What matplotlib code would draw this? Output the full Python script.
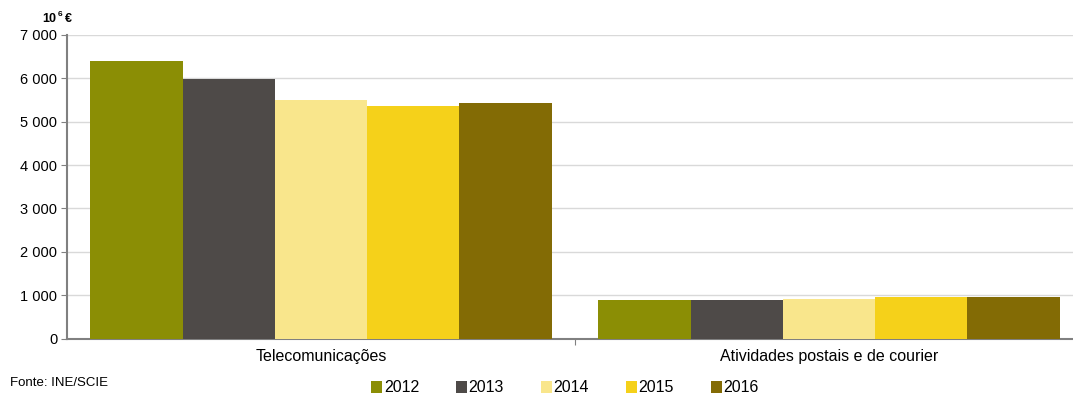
import matplotlib.pyplot as plt
import numpy as np

plt.rcParams['font.family'] = ['Liberation Sans', 'DejaVu Sans']

categories = ['Telecomunicações', 'Atividades postais e de courier']
years = ['2012', '2013', '2014', '2015', '2016']
values = {
    '2012': [6390, 885],
    '2013': [5995, 885],
    '2014': [5510, 922],
    '2015': [5360, 960],
    '2016': [5435, 960],
}
colors = ['#8B8E05', '#4E4A48', '#F9E68C', '#F5D11A', '#836B05']

fig = plt.figure(figsize=(10.73, 3.99), dpi=100)
# axis spans slightly past the right edge, like the original
ax = fig.add_axes([67 / 1073, 1 - 338.5 / 399, 1016 / 1073, 303.5 / 399])

x = np.arange(len(categories))
w = 0.1815
for k, yr in enumerate(years):
    ax.bar(x + (k - 2) * w, values[yr], width=w, color=colors[k], label=yr, zorder=3)

ax.set_xlim(-0.5, 1.5)
ax.set_ylim(0, 7000)
ax.set_yticks(range(0, 7001, 1000))
ax.set_yticklabels(['0' if v == 0 else f'{v // 1000} {v % 1000:03d}' for v in range(0, 7001, 1000)],
                   fontsize=10.5)
ax.yaxis.grid(True, color='#D9D9D9', lw=1, zorder=0)
ax.set_xticks([0.5])
ax.set_xticklabels([''])
ax.tick_params(axis='x', length=4, color='#808080', direction='out')
ax.tick_params(axis='y', length=4, color='#808080', pad=3)
for s in ['top', 'right']:
    ax.spines[s].set_visible(False)
for s in ['left', 'bottom']:
    ax.spines[s].set_color('#808080')
    ax.spines[s].set_linewidth(1.5)

for i, c in enumerate(categories):
    ax.text(x[i], -0.06, c, transform=ax.get_xaxis_transform(), ha='center', va='center',
            fontsize=11.5)

# unit label: 10 + raised 6 + €
fig.text(42 / 1073, 1 - 19 / 399, '10', fontsize=9, fontweight='bold', ha='left', va='center')
fig.text(57.5 / 1073, 1 - 14 / 399, '6', fontsize=6, fontweight='bold', ha='left', va='center')
fig.text(65 / 1073, 1 - 19 / 399, '€', fontsize=9, fontweight='bold', ha='left', va='center')
fig.text(10 / 1073, 1 - 383 / 399, 'Fonte: INE/SCIE', fontsize=9.5, ha='left', va='center')

fig.legend(loc='center', bbox_to_anchor=(565 / 1073, 1 - 388 / 399), ncol=5, frameon=False,
           fontsize=11.5, handlelength=0.7, handleheight=0.7, handletextpad=0.1,
           columnspacing=2.3, borderpad=0)

fig.savefig('out.png', dpi=100)
